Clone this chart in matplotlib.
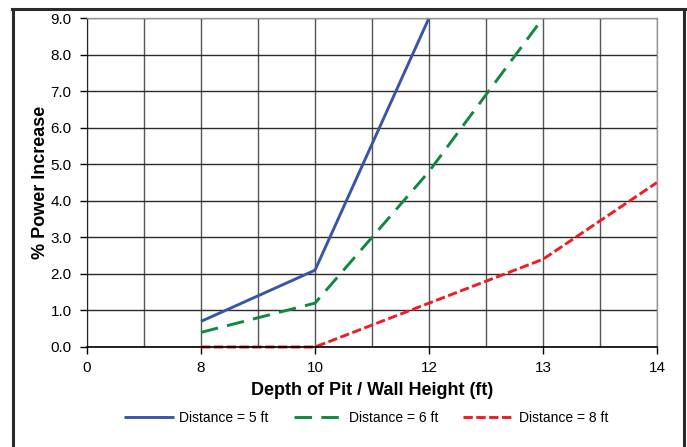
import numpy as np
import matplotlib
matplotlib.use("Agg")
import matplotlib.pyplot as plt
from matplotlib.lines import Line2D

plt.rcParams['font.family'] = ['Liberation Sans', 'DejaVu Sans']

# category labels along x (evenly spaced in the source chart)
categories = ["0", "8", "10", "12", "13", "14"]

# series values (None = no point)
dist5 = [None, 0.7, 2.1, 9.0, None, None]
dist6 = [None, 0.4, 1.2, 4.8, 9.0, None]
dist8 = [None, 0.0, 0.0, 1.2, 2.4, 4.5]

series = [
    ("Distance = 5 ft", dist5, "#3B55A5", "-", None),
    ("Distance = 6 ft", dist6, "#11873F", "--", (6.0, 3.2)),
    ("Distance = 8 ft", dist8, "#EE1D25", "--", (3.2, 1.2)),
]

fig = plt.figure(figsize=(6.87, 4.47), dpi=100)
ax = fig.add_axes([87 / 687, 1 - 347 / 447, 570 / 687, 329 / 447])

x = np.arange(len(categories))
for label, vals, color, ls, dashes in series:
    v = np.array([np.nan if a is None else a for a in vals], dtype=float)
    kw = dict(color=color, lw=2.1, label=label, solid_capstyle='butt',
              dash_capstyle='butt', clip_on=False)
    if dashes:
        ax.plot(x, v, linestyle=ls, dashes=dashes, **kw)
    else:
        ax.plot(x, v, linestyle=ls, **kw)

ax.set_xlim(0, len(categories) - 1)
ax.set_ylim(0, 9)
ax.set_xticks(x)
ax.set_xticklabels(categories)
ax.set_xticks(np.arange(0.5, len(categories) - 1, 1.0), minor=True)
ax.set_yticks(np.arange(0, 9.1, 1.0))
ax.set_yticklabels([f"{t:.1f}" for t in np.arange(0, 9.1, 1.0)])

ax.grid(True, which='major', axis='y', color='#2b2b2b', lw=1.0)
ax.grid(True, which='both', axis='x', color='#555555', lw=1.0)
ax.set_axisbelow(True)

ax.tick_params(axis='x', which='major', direction='out', length=5, width=1,
               labelsize=11, pad=5, color='black')
ax.tick_params(axis='x', which='minor', length=0)
ax.tick_params(axis='y', direction='out', length=5, width=1,
               labelsize=11, pad=6, color='black')

for side in ['top', 'right']:
    ax.spines[side].set_color('#999999')
    ax.spines[side].set_linewidth(1.0)
ax.spines['left'].set_color('#222222')
ax.spines['bottom'].set_color('black')
ax.spines['bottom'].set_linewidth(1.2)

ax.set_xlabel("Depth of Pit / Wall Height (ft)", fontsize=13, fontweight='bold',
              labelpad=5)
ax.set_ylabel("% Power Increase", fontsize=13, fontweight='bold', labelpad=1)

leg = fig.legend(loc='center', bbox_to_anchor=(366 / 687, 1 - 418 / 447),
                 ncol=3, frameon=False, fontsize=10, handlelength=3.6,
                 handletextpad=0.4, columnspacing=1.8)

# outer chart frame (partly cropped in the source)
frame_kw = dict(color='#2a2a2a', lw=2.2, transform=fig.transFigure)
fig.add_artist(Line2D([12 / 687, 685 / 687], [1 - 9 / 447, 1 - 9 / 447], **frame_kw))
fig.add_artist(Line2D([13 / 687, 13 / 687], [0, 1 - 9 / 447], **frame_kw))
fig.add_artist(Line2D([684 / 687, 684 / 687], [0, 1 - 9 / 447], **frame_kw))

fig.savefig("out.png", dpi=100)
